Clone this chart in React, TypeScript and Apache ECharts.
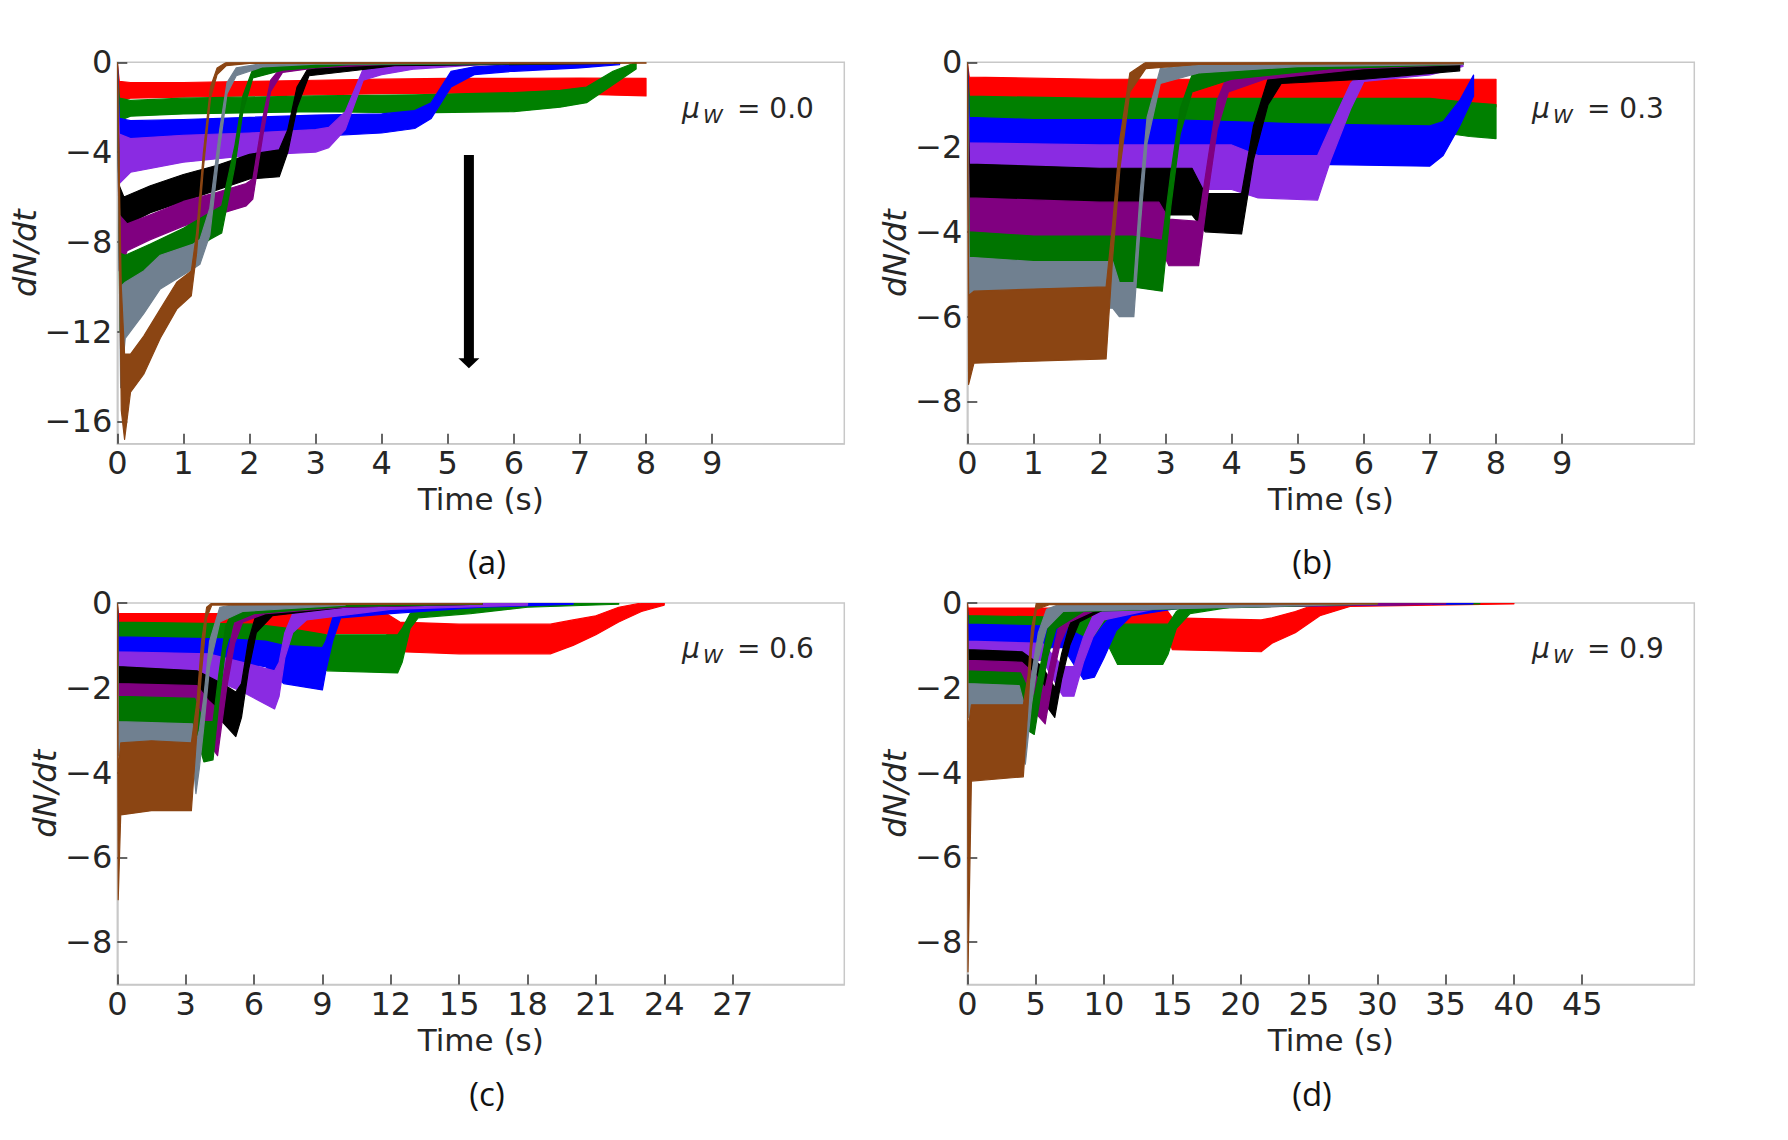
import React, { useEffect, useRef } from "react";
import * as echarts from "echarts";

type Pt = [number, number, number]; // [time (s), upper edge of band, lower edge of band]

// ---------- colours / names ----------
const COLORS = ["#ff0000", "#008000", "#0000ff", "#8a2be2", "#000000", "#800080", "#007400", "#708090", "#8b4513"];
const SERIES_NAMES = ["red", "green", "blue", "blueviolet", "black", "purple", "darkgreen", "slategray", "saddlebrown"];
const PANEL_TAGS = ["(a)", "(b)", "(c)", "(d)"];
const MU_VALUES = ["0.0", "0.3", "0.6", "0.9"];

// ---------- axes ----------
const X_MAX = [11, 11, 31.9, 53.2];
const Y_MIN = [-17, -9, -9, -9];
const X_TICKS_A = [0, 1, 2, 3, 4, 5, 6, 7, 8, 9];
const X_TICKS_B = [0, 1, 2, 3, 4, 5, 6, 7, 8, 9];
const X_TICKS_C = [0, 3, 6, 9, 12, 15, 18, 21, 24, 27];
const X_TICKS_D = [0, 5, 10, 15, 20, 25, 30, 35, 40, 45];
const Y_TICKS_A = [0, -4, -8, -12, -16];
const Y_TICKS_BCD = [0, -2, -4, -6, -8];

// ---------- panel (a) mu_W = 0.0 ----------
const A_RED: Pt[] = [[0,0,0],[0.03,-0.85,-1.7],[0.2,-0.9,-1.6],[1,-0.9,-1.55],[2,-0.85,-1.5],[3,-0.8,-1.45],[4,-0.75,-1.4],[5,-0.72,-1.38],[6,-0.72,-1.4],[7,-0.7,-1.42],[8,-0.72,-1.5]];
const A_GREEN: Pt[] = [[0,0,0],[0.03,-1.6,-2.6],[0.2,-1.7,-2.4],[1,-1.6,-2.3],[3,-1.5,-2.2],[4.5,-1.45,-2.25],[6,-1.35,-2.2],[6.7,-1.25,-2.0],[7.1,-1.1,-1.8],[7.5,-0.4,-1.0],[7.85,0,-0.3]];
const A_BLUE: Pt[] = [[0,0,0],[0.03,-2.5,-4.2],[0.2,-2.6,-3.9],[1,-2.55,-3.7],[2,-2.45,-3.5],[3,-2.35,-3.3],[4,-2.3,-3.15],[4.5,-2.15,-2.95],[4.75,-1.8,-2.5],[5.05,-0.4,-1.1],[5.4,-0.2,-0.55],[6,-0.1,-0.4],[7,0,-0.25],[7.6,0,-0.1]];
const A_VIOLET: Pt[] = [[0,0,0],[0.03,-3.2,-5.4],[0.2,-3.4,-4.9],[1,-3.25,-4.45],[2,-3.15,-4.15],[3,-3.0,-4.0],[3.2,-2.9,-3.8],[3.45,-2.2,-3.0],[3.72,-0.3,-0.8],[4,-0.15,-0.55],[4.5,-0.05,-0.3],[5.5,0,-0.1],[7.5,0,-0.05]];
const A_BLACK: Pt[] = [[0,0,0],[0.03,-5.5,-7.6],[0.1,-6.0,-7.3],[0.5,-5.5,-6.7],[1,-5.0,-6.2],[1.5,-4.6,-5.7],[2,-4.1,-5.2],[2.45,-3.9,-5.1],[2.58,-3.0,-4.0],[2.72,-1.1,-2.0],[2.9,-0.2,-0.6],[3.5,-0.1,-0.4],[4.2,0,-0.15],[7.6,0,-0.05]];
const A_PURPLE: Pt[] = [[0,0,0],[0.03,-6.8,-9.3],[0.15,-7.2,-8.4],[0.5,-6.8,-7.9],[1,-6.2,-7.3],[1.5,-5.8,-6.8],[1.95,-5.4,-6.4],[2.05,-5.2,-6.1],[2.2,-2.5,-3.3],[2.32,-0.8,-1.3],[2.5,-0.15,-0.45],[3,-0.05,-0.25],[4,0,-0.1],[7.5,0,-0.05]];
const A_DGREEN: Pt[] = [[0,0,0],[0.04,-8.5,-12.0],[0.12,-8.6,-10.6],[0.5,-8.1,-9.4],[1,-7.4,-8.7],[1.4,-6.7,-7.9],[1.58,-6.4,-7.6],[1.78,-3.7,-4.6],[1.9,-1.5,-2.2],[2.05,-0.3,-0.7],[2.5,-0.1,-0.35],[3.5,0,-0.1],[7.5,0,-0.05]];
const A_SLATE: Pt[] = [[0,0,0],[0.05,-10,-14.5],[0.12,-9.8,-12.3],[0.4,-9.3,-11.2],[0.65,-8.6,-10.1],[1.15,-8.1,-9.2],[1.25,-7.9,-9.0],[1.4,-6.5,-7.7],[1.55,-3.0,-3.8],[1.66,-0.9,-1.4],[1.8,-0.25,-0.6],[2.2,-0.05,-0.2],[3,0,-0.08],[7.5,0,-0.04]];
const A_BROWN: Pt[] = [[0,0,0],[0.06,-10,-15.5],[0.11,-13,-16.8],[0.2,-13,-14.7],[0.4,-12.2,-13.9],[0.65,-11,-12.3],[0.9,-9.8,-11],[1.12,-9.3,-10.4],[1.2,-7.6,-8.5],[1.3,-4.1,-4.8],[1.41,-1.1,-1.6],[1.51,-0.25,-0.55],[1.65,0,-0.15],[2,0,-0.05],[8,0,-0.04]];
// arrow in panel (a): [time, top value, tip value]
const ARROW_A: number[] = [5.32, -4.13, -13.63];

// ---------- panel (b) mu_W = 0.3 ----------
const B_RED: Pt[] = [[0,0,0],[0.03,-0.35,-1.1],[2,-0.4,-1.05],[4,-0.4,-1.05],[6,-0.4,-1.05],[8,-0.4,-1.05]];
const B_GREEN: Pt[] = [[0,0,0],[0.03,-0.8,-1.7],[2,-0.85,-1.6],[4,-0.85,-1.6],[7,-0.85,-1.62],[7.6,-0.95,-1.75],[8,-1.0,-1.8]];
const B_BLUE: Pt[] = [[0,0,0],[0.03,-1.3,-2.5],[1,-1.35,-2.35],[3,-1.35,-2.35],[5,-1.45,-2.4],[7.0,-1.5,-2.45],[7.2,-1.4,-2.2],[7.45,-0.9,-1.5],[7.66,-0.3,-0.8]];
const B_VIOLET: Pt[] = [[0,0,0],[0.03,-1.9,-3.0],[2,-1.95,-3.0],[4,-1.95,-3.0],[4.4,-2.2,-3.2],[5.3,-2.2,-3.25],[5.5,-1.5,-2.3],[5.8,-0.5,-1.1],[6,-0.15,-0.45],[7,-0.05,-0.3],[7.5,0,-0.1]];
const B_BLACK: Pt[] = [[0,0,0],[0.03,-2.4,-3.7],[2,-2.5,-3.6],[3.4,-2.5,-3.6],[3.6,-3.1,-4.0],[4.15,-3.1,-4.05],[4.33,-1.5,-2.3],[4.55,-0.4,-1.0],[4.75,-0.15,-0.5],[6,-0.1,-0.4],[7.45,0,-0.2]];
const B_PURPLE: Pt[] = [[0,0,0],[0.03,-3.2,-4.4],[2,-3.3,-4.3],[2.9,-3.3,-4.3],[3.05,-3.7,-4.8],[3.5,-3.75,-4.8],[3.65,-2.2,-3.0],[3.78,-0.9,-1.6],[3.95,-0.25,-0.7],[4.5,-0.1,-0.4],[6,0,-0.15],[7.5,0,-0.05]];
const B_DGREEN: Pt[] = [[0,0,0],[0.03,-4.0,-5.5],[1,-4.1,-5.3],[2.5,-4.1,-5.3],[2.95,-4.2,-5.4],[3.08,-2.6,-3.4],[3.22,-1.1,-1.7],[3.4,-0.3,-0.7],[4,-0.1,-0.4],[5.5,0,-0.15],[7.5,0,-0.05]];
const B_SLATE: Pt[] = [[0,0,0],[0.03,-4.6,-6.0],[1,-4.7,-5.8],[2.2,-4.7,-5.8],[2.3,-5.2,-6.0],[2.52,-5.2,-6.0],[2.62,-3.0,-3.8],[2.72,-1.3,-1.9],[2.92,-0.15,-0.5],[3.5,-0.05,-0.25],[5,0,-0.1],[7.5,0,-0.05]];
const B_BROWN: Pt[] = [[0,0,0],[0.02,-5.5,-7.6],[0.1,-5.4,-7.1],[1,-5.35,-7.05],[2.1,-5.3,-7.0],[2.2,-3.8,-4.6],[2.31,-1.8,-2.5],[2.46,-0.25,-0.7],[2.7,0,-0.15],[3.5,0,-0.05],[7.5,0,-0.03]];

// ---------- panel (c) mu_W = 0.6 ----------
const C_RED: Pt[] = [[0,0,0],[0.05,-0.25,-0.75],[6,-0.25,-0.72],[11.8,-0.25,-0.72],[12.4,-0.45,-1.15],[15,-0.5,-1.2],[19,-0.5,-1.2],[20,-0.4,-1.0],[21,-0.3,-0.75],[22,-0.1,-0.45],[23,0,-0.2],[24,0,-0.05]];
const C_GREEN: Pt[] = [[0,0,0],[0.05,-0.45,-1.05],[6,-0.5,-1.0],[7.5,-0.6,-1.2],[9.2,-0.75,-1.6],[12.3,-0.75,-1.65],[12.5,-0.6,-1.4],[12.85,-0.25,-0.6],[13.2,-0.05,-0.35],[15.5,0,-0.25],[18,0,-0.1],[22,0,-0.03]];
const C_BLUE: Pt[] = [[0,0,0],[0.05,-0.8,-1.45],[5,-0.85,-1.4],[6.5,-0.9,-1.5],[7.3,-1.0,-1.9],[9.0,-1.05,-2.05],[9.15,-0.9,-1.6],[9.45,-0.35,-0.9],[9.8,-0.1,-0.35],[12,-0.05,-0.25],[16,0,-0.1],[20,0,-0.03]];
const C_VIOLET: Pt[] = [[0,0,0],[0.05,-1.15,-1.8],[4,-1.2,-1.75],[5.5,-1.4,-2.1],[6.9,-1.6,-2.5],[7.1,-1.4,-2.2],[7.35,-0.7,-1.3],[7.7,-0.25,-0.7],[8.3,-0.1,-0.4],[12,0,-0.15],[18,0,-0.05]];
const C_BLACK: Pt[] = [[0,0,0],[0.05,-1.5,-2.3],[3.5,-1.6,-2.3],[4.6,-1.9,-2.8],[5.2,-2.1,-3.15],[5.45,-1.9,-2.7],[5.75,-0.9,-1.6],[6.1,-0.25,-0.7],[6.8,-0.05,-0.3],[10,0,-0.1],[16,0,-0.03]];
const C_PURPLE: Pt[] = [[0,0,0],[0.05,-1.9,-2.7],[3.5,-1.95,-2.6],[4.0,-2.3,-3.3],[4.4,-2.5,-3.6],[4.8,-1.3,-2.0],[5.15,-0.45,-0.95],[5.5,-0.15,-0.45],[6.5,-0.05,-0.25],[10,0,-0.1],[16,0,-0.03]];
const C_DGREEN: Pt[] = [[0,0,0],[0.05,-2.2,-3.1],[3.4,-2.25,-3.0],[3.8,-2.8,-3.75],[4.2,-2.8,-3.7],[4.45,-1.7,-2.4],[4.75,-0.55,-1.1],[5.1,-0.15,-0.45],[6,-0.05,-0.25],[10,0,-0.08],[16,0,-0.03]];
const C_SLATE: Pt[] = [[0,0,0],[0.05,-2.8,-3.6],[3.3,-2.85,-3.55],[3.45,-3.3,-4.5],[3.6,-3.0,-3.9],[3.8,-2.2,-2.9],[4.05,-0.9,-1.5],[4.5,-0.1,-0.45],[5.5,0,-0.2],[10,0,-0.05]];
const C_BROWN: Pt[] = [[0,0,0],[0.04,-4.0,-7.0],[0.15,-3.3,-5.0],[1.5,-3.25,-4.9],[3.25,-3.3,-4.9],[3.5,-2.3,-3.0],[3.7,-0.9,-1.6],[3.92,-0.1,-0.35],[4.15,0,-0.05],[16,0,-0.02]];

// ---------- panel (d) mu_W = 0.9 ----------
const D_RED: Pt[] = [[0,0,0],[0.05,-0.12,-0.6],[14.5,-0.12,-0.58],[15,-0.35,-1.1],[21.5,-0.4,-1.15],[22.3,-0.35,-0.95],[24,-0.2,-0.7],[25.8,0,-0.3],[28,0,-0.08],[40,0,-0.02]];
const D_GREEN: Pt[] = [[0,0,0],[0.05,-0.3,-0.8],[10,-0.35,-0.8],[11,-0.5,-1.45],[14.3,-0.5,-1.45],[14.7,-0.5,-1.2],[15.3,-0.2,-0.6],[16.3,0,-0.25],[20,0,-0.06],[37.5,0,-0.02]];
const D_BLUE: Pt[] = [[0,0,0],[0.05,-0.5,-1.1],[7,-0.55,-1.05],[8.5,-0.8,-1.8],[9.3,-0.8,-1.75],[10,-0.5,-1.3],[10.9,-0.2,-0.65],[12,-0.05,-0.3],[16,0,-0.1],[37,0,-0.02]];
const D_VIOLET: Pt[] = [[0,0,0],[0.05,-0.9,-1.4],[5.5,-0.95,-1.35],[7,-1.5,-2.2],[7.8,-1.5,-2.2],[8.5,-0.8,-1.4],[9.2,-0.3,-0.8],[10,-0.05,-0.4],[14,0,-0.12],[34,0,-0.02]];
const D_BLACK: Pt[] = [[0,0,0],[0.05,-1.1,-1.7],[4,-1.15,-1.65],[5.5,-1.5,-2.3],[6.4,-2.0,-2.7],[6.9,-1.2,-1.8],[7.5,-0.5,-1.0],[8.2,-0.1,-0.45],[10,0,-0.15],[30,0,-0.02]];
const D_PURPLE: Pt[] = [[0,0,0],[0.05,-1.35,-2.0],[4,-1.4,-1.95],[5.0,-1.7,-2.6],[5.7,-2.0,-2.85],[6.3,-1.1,-1.7],[6.8,-0.4,-0.95],[7.5,-0.1,-0.45],[9.5,0,-0.15],[35,0,-0.02]];
const D_DGREEN: Pt[] = [[0,0,0],[0.05,-1.6,-2.45],[3.9,-1.65,-2.35],[4.4,-2.0,-3.0],[4.9,-2.2,-3.1],[5.4,-1.4,-2.1],[5.9,-0.6,-1.25],[6.5,-0.15,-0.6],[8.5,0,-0.2],[30,0,-0.02]];
const D_SLATE: Pt[] = [[0,0,0],[0.05,-1.9,-2.7],[3.8,-1.95,-2.6],[4.25,-2.5,-3.8],[4.7,-1.7,-2.4],[5.2,-0.7,-1.3],[5.8,-0.15,-0.6],[7,0,-0.2],[30,0,-0.02]];
const D_BROWN: Pt[] = [[0,0,0],[0.05,-3.0,-8.7],[0.3,-2.4,-4.2],[4.1,-2.4,-4.1],[4.45,-1.7,-2.4],[4.7,-0.6,-1.1],[5.05,0,-0.15],[6,0,-0.04],[30,0,-0.02]];

const PANELS: Pt[][][] = [
  [A_RED, A_GREEN, A_BLUE, A_VIOLET, A_BLACK, A_PURPLE, A_DGREEN, A_SLATE, A_BROWN],
  [B_RED, B_GREEN, B_BLUE, B_VIOLET, B_BLACK, B_PURPLE, B_DGREEN, B_SLATE, B_BROWN],
  [C_RED, C_GREEN, C_BLUE, C_VIOLET, C_BLACK, C_PURPLE, C_DGREEN, C_SLATE, C_BROWN],
  [D_RED, D_GREEN, D_BLUE, D_VIOLET, D_BLACK, D_PURPLE, D_DGREEN, D_SLATE, D_BROWN],
];
const X_TICKS = [X_TICKS_A, X_TICKS_B, X_TICKS_C, X_TICKS_D];
const Y_TICKS = [Y_TICKS_A, Y_TICKS_BCD, Y_TICKS_BCD, Y_TICKS_BCD];

// ---------- layout ----------
const GRID_LEFT = [117.3, 967.3, 117.3, 967.3];
const GRID_TOP = [62.3, 62.3, 603, 603];
const GRID_W = 727;
const GRID_H = 381.5;
const Y_NAME_GAP = [67, 45, 45, 45];
const TEXT_COLOR = "#262626";
const FONT = "DejaVu Sans";

const fmtTick = (v: number) => (v < 0 ? "\u2212" + Math.abs(v) : String(v));

function bandSeries(gi: number, pts: Pt[], color: string, name: string) {
  return {
    type: "custom",
    name,
    xAxisIndex: gi,
    yAxisIndex: gi,
    clip: true,
    silent: true,
    data: pts,
    encode: { x: 0, y: [1, 2] },
    renderItem: (params: any, api: any) => {
      if (params.dataIndex !== 0) return null;
      const upper = pts.map((p) => api.coord([p[0], p[1]]));
      const lower = pts.slice().reverse().map((p) => api.coord([p[0], p[2]]));
      return {
        type: "polygon",
        shape: { points: upper.concat(lower) },
        style: { fill: color, stroke: color, lineWidth: 1.2, lineJoin: "round" },
      };
    },
  };
}

function arrowSeries() {
  return {
    type: "custom",
    name: "arrow",
    xAxisIndex: 0,
    yAxisIndex: 0,
    silent: true,
    data: [ARROW_A],
    encode: { x: 0, y: [1, 2] },
    renderItem: (params: any, api: any) => {
      const top = api.coord([api.value(0), api.value(1)]);
      const tip = api.coord([api.value(0), api.value(2)]);
      return {
        type: "group",
        children: [
          { type: "rect", shape: { x: top[0] - 5, y: top[1], width: 10, height: tip[1] - top[1] - 9 }, style: { fill: "#000" } },
          {
            type: "polygon",
            shape: { points: [[tip[0] - 10.5, tip[1] - 10], [tip[0] + 10.5, tip[1] - 10], [tip[0], tip[1]]] },
            style: { fill: "#000" },
          },
        ],
      };
    },
  };
}

function buildOption() {
  const grids = GRID_LEFT.map((l, i) => ({
    left: l,
    top: GRID_TOP[i],
    width: GRID_W,
    height: GRID_H,
    show: true,
    borderColor: "#c8c8c8",
    borderWidth: 1.5,
    backgroundColor: "transparent",
  }));
  const xAxes = X_MAX.map((mx, i) => ({
    gridIndex: i,
    type: "value",
    min: 0,
    max: mx,
    axisLine: { show: true, onZero: false, lineStyle: { color: "#c8c8c8", width: 1.5 } },
    axisTick: { show: true, inside: true, length: 10, customValues: X_TICKS[i], lineStyle: { color: "#333", width: 1.5 } },
    axisLabel: { customValues: X_TICKS[i], margin: 3, fontSize: 32, fontFamily: FONT, color: TEXT_COLOR, formatter: fmtTick },
    splitLine: { show: false },
    name: "Time (s)",
    nameLocation: "middle",
    nameGap: 40,
    nameTextStyle: { fontSize: 31, fontFamily: FONT, color: TEXT_COLOR },
  }));
  const yAxes = Y_MIN.map((mn, i) => ({
    gridIndex: i,
    type: "value",
    min: mn,
    max: 0,
    axisLine: { show: true, onZero: false, lineStyle: { color: "#c8c8c8", width: 1.5 } },
    axisTick: { show: true, inside: true, length: 10, customValues: Y_TICKS[i], lineStyle: { color: "#333", width: 1.5 } },
    axisLabel: { customValues: Y_TICKS[i], margin: 5, fontSize: 32, fontFamily: FONT, color: TEXT_COLOR, formatter: fmtTick },
    splitLine: { show: false },
    name: "dN/dt",
    nameLocation: "middle",
    nameRotate: 90,
    nameGap: Y_NAME_GAP[i],
    nameTextStyle: { fontSize: 32, fontFamily: FONT, fontStyle: "italic", color: TEXT_COLOR },
  }));

  const series: any[] = [];
  PANELS.forEach((list, gi) => {
    list.forEach((pts, si) => series.push(bandSeries(gi, pts, COLORS[si], PANEL_TAGS[gi] + " " + SERIES_NAMES[si])));
  });
  series.push(arrowSeries());

  const graphic: any[] = [];
  MU_VALUES.forEach((mu, i) => {
    const dx = i % 2 ? 850 : 0;
    const dy = i >= 2 ? 540 : 0;
    const base = { fill: TEXT_COLOR, fontFamily: FONT, align: "left", verticalAlign: "middle", textAlign: "left", textVerticalAlign: "middle" };
    graphic.push({ type: "text", x: 682 + dx, y: 108.5 + dy, style: { ...base, text: "\u03bc", fontSize: 28, fontStyle: "italic" } });
    graphic.push({ type: "text", x: 703 + dx, y: 116 + dy, style: { ...base, text: "W", fontSize: 20, fontStyle: "italic" } });
    graphic.push({ type: "text", x: 737 + dx, y: 108.5 + dy, style: { ...base, text: "= " + mu, fontSize: 28 } });
    graphic.push({
      type: "text",
      x: 487 + (i % 2 ? 825 : 0),
      y: 561 + (i >= 2 ? 532 : 0),
      style: { text: PANEL_TAGS[i], fill: "#111", fontFamily: "Open Sans", fontSize: 33, align: "center", verticalAlign: "middle", textAlign: "center", textVerticalAlign: "middle" },
    });
  });

  return {
    animation: false,
    backgroundColor: "#ffffff",
    grid: grids,
    xAxis: xAxes,
    yAxis: yAxes,
    series,
    graphic,
  };
}

export default function App() {
  const ref = useRef<HTMLDivElement>(null);
  useEffect(() => {
    if (!ref.current) return;
    const chart = echarts.init(ref.current, undefined, { renderer: "svg" });
    chart.setOption(buildOption() as any);
    return () => chart.dispose();
  }, []);
  return <div ref={ref} style={{ position: "absolute", left: 0, top: 0, width: 1788, height: 1140, background: "#fff" }} />;
}
